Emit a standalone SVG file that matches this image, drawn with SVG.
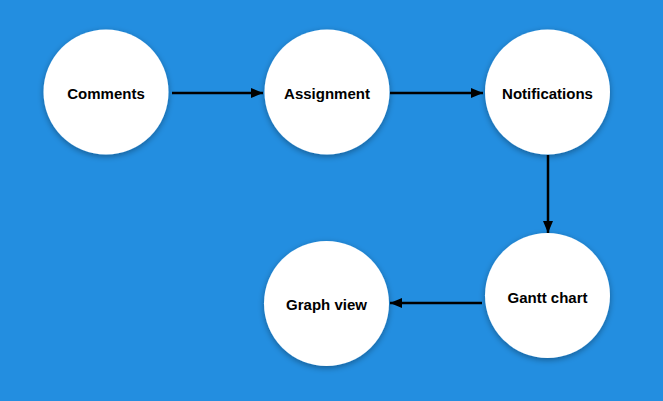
<svg xmlns="http://www.w3.org/2000/svg" width="663" height="401" viewBox="0 0 663 401">
<defs>
<filter id="sh" x="-30%" y="-30%" width="160%" height="160%">
<feGaussianBlur in="SourceAlpha" stdDeviation="3"/>
<feOffset dx="0" dy="2" result="b"/>
<feComponentTransfer><feFuncA type="linear" slope="0.35"/></feComponentTransfer>
<feMerge><feMergeNode/><feMergeNode in="SourceGraphic"/></feMerge>
</filter>
<marker id="ah" viewBox="0 0 12 10" refX="12" refY="5" markerWidth="12" markerHeight="10" markerUnits="userSpaceOnUse" orient="auto">
<path d="M0,0 L12,5 L0,10 Z" fill="#000"/>
</marker>
<style>
.n{fill:#fff;filter:url(#sh)}
.t{font-family:"Liberation Sans",Arial,sans-serif;font-weight:bold;font-size:15px;fill:#000;text-anchor:middle;dominant-baseline:central}
.c{stroke:#000;stroke-width:2.5;fill:none;marker-end:url(#ah)}
</style>
</defs>
<rect width="663" height="401" fill="#238ee0"/>
<g id="connectors">
<line class="c" x1="172" y1="93" x2="263" y2="93"/>
<line class="c" x1="390" y1="93" x2="483" y2="93"/>
<line class="c" x1="548" y1="155" x2="548" y2="233"/>
<line class="c" x1="482" y1="303" x2="390" y2="303"/>
</g>
<g id="comments"><circle class="n" cx="106" cy="92" r="62.5"/><text class="t" x="106" y="93">Comments</text></g>
<g id="assignment"><circle class="n" cx="327" cy="92" r="62.5"/><text class="t" x="327" y="93">Assignment</text></g>
<g id="notifications"><circle class="n" cx="547.5" cy="92" r="62.5"/><text class="t" x="547.5" y="93">Notifications</text></g>
<g id="gantt"><circle class="n" cx="547.5" cy="295.5" r="62.5"/><text class="t" x="547.5" y="297">Gantt chart</text></g>
<g id="graph"><circle class="n" cx="326.5" cy="303.5" r="62.5"/><text class="t" x="326.5" y="304">Graph view</text></g>
</svg>
